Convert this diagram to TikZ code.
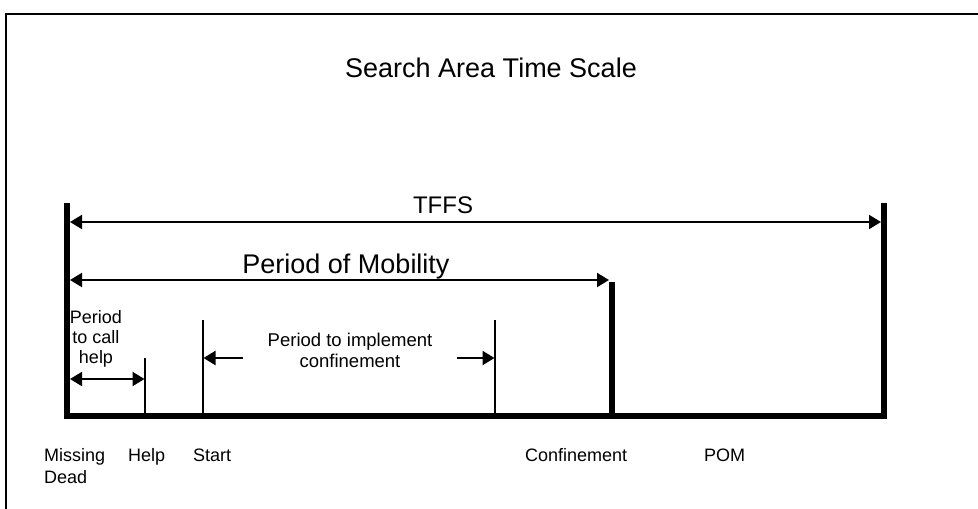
\documentclass[tikz,border=0pt]{standalone}
\usepackage{fontspec}
\setmainfont{Liberation Sans}
\usetikzlibrary{arrows.meta}
\begin{document}
\begin{tikzpicture}[x=1pt,y=-1pt,
  frame/.style={line width=2pt},
  bar/.style={line width=6pt,line join=miter},
  tick/.style={line width=1.5pt},
  tip/.tip={Triangle[length=12pt,width=14pt]},
  span/.style={line width=2pt,tip-tip},
  halfspan/.style={line width=2pt,-tip},
  big/.style={font=\fontsize{27}{30}\selectfont,inner sep=0pt,anchor=base},
  small/.style={font=\fontsize{18}{20}\selectfont,inner sep=0pt},
]
\useasboundingbox (0,0) rectangle (978,509);

% outer frame, running off the right and bottom edges
\coordinate (fbl) at (6,512);
\coordinate (ftl) at (6,14);
\coordinate (ftr) at (981,14);
\draw[frame] (fbl) -- (ftl) -- (ftr);

% time axis with its end bars
\coordinate (mdtop) at (67,203);
\coordinate (md) at (67,416);
\coordinate (tffs) at (884,416);
\coordinate (tffstop) at (884,203);
\draw[bar] (mdtop) -- (md) -- (tffs) -- (tffstop);

\coordinate (conftop) at (612,282);
\coordinate (conf) at (612,416);
\draw[bar] (conftop) -- (conf);

% thin event ticks
\coordinate (helptop) at (145,358);
\coordinate (help) at (145,416);
\coordinate (starttop) at (203,320);
\coordinate (start) at (203,416);
\coordinate (impltop) at (495,320);
\coordinate (impl) at (495,416);
\draw[tick] (helptop) -- (help);
\draw[tick] (starttop) -- (start);
\draw[tick] (impltop) -- (impl);

% spans
\coordinate (tffsL) at (70,222);
\coordinate (tffsR) at (881,222);
\draw[span] (tffsL) -- (tffsR);

\coordinate (pomL) at (70,280);
\coordinate (pomR) at (609,280);
\draw[span] (pomL) -- (pomR);

\coordinate (callL) at (70,379);
\coordinate (callR) at (144.5,379);
\draw[span] (callL) -- (callR);

\coordinate (implLfrom) at (243,358);
\coordinate (implLto) at (203.5,358);
\coordinate (implRfrom) at (457,358);
\coordinate (implRto) at (494.5,358);
\draw[halfspan] (implLfrom) -- (implLto);
\draw[halfspan] (implRfrom) -- (implRto);

% texts
\node[big] (title) at (491,77) {Search Area Time Scale};
\node[big,font=\fontsize{24}{28}\selectfont] (tffslabel) at (443,213) {TFFS};
\node[big] (pomlabel) at (346,273) {Period of Mobility};

% multi-line nodes: the base anchor sits on the last line
\node[small,align=center,anchor=base] (calltext) at (96,363) {Period\\to call\\help};
\node[small,align=center,anchor=base,font=\fontsize{18.5}{21}\selectfont] (impltext) at (350,367) {Period to implement\\confinement};

\node[small,align=left,anchor=base west,font=\fontsize{18}{22}\selectfont] (mdlabel) at (44,483) {Missing\\Dead};
\node[small,anchor=base west] (helplabel) at (128,461) {Help};
\node[small,anchor=base west] (startlabel) at (193,461) {Start};
\node[small,anchor=base west] (conflabel) at (525,461) {Confinement};
\node[small,anchor=base west] (pomend) at (704,461) {POM};
\end{tikzpicture}
\end{document}
